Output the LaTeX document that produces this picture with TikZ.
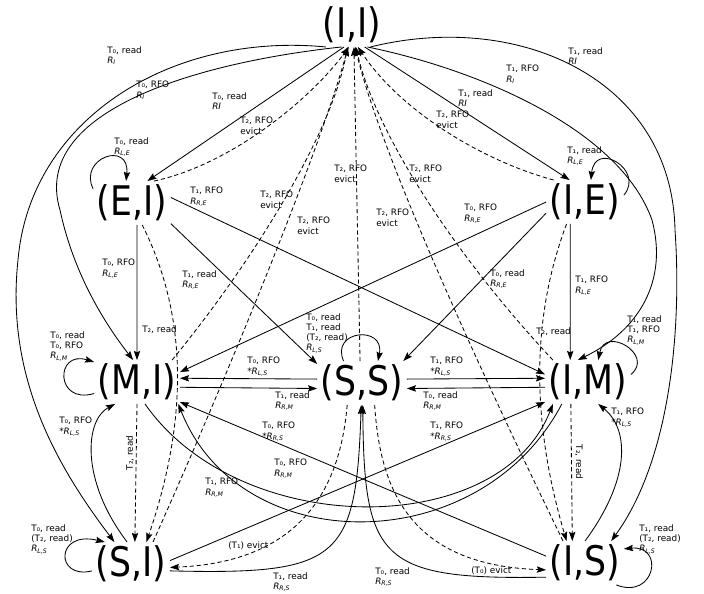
\documentclass[tikz,border=0pt]{standalone}
\usepackage{fontspec}
\setmainfont{DejaVu Sans}
\newfontfamily\statefont{DejaVu Sans}[FakeStretch=0.85]
\usetikzlibrary{arrows.meta}
\newcommand{\Rs}[1]{\textit{R}\textsubscript{\textit{#1}}}
\tikzset{
  state/.style={font=\statefont\fontsize{29}{29}\selectfont, inner sep=2.5pt},
  lbl/.style={anchor=north west, inner sep=0pt, align=left, font=\fontsize{6.3}{7.3}\selectfont},
  tr/.style={line width=0.6pt, -{Stealth[length=6.5pt,width=4.5pt,inset=1pt]}},
  dashtr/.style={tr, dash pattern=on 3pt off 2pt},
}
\begin{document}
\begin{tikzpicture}[x=0.025cm, y=-0.025cm]
\useasboundingbox (0,0) rectangle (704,593);
% states
\node[state] (II) at (352,25) {(I,I)};
\node[state] (EI) at (132,203) {(E,I)};
\node[state] (IE) at (585,202) {(I,E)};
\node[state] (MI) at (137,382) {(M,I)};
\node[state] (SS) at (362,383) {(S,S)};
\node[state] (IM) at (588,382) {(I,M)};
\node[state] (SI) at (131,564) {(S,I)};
\node[state] (IS) at (585,563) {(I,S)};
% out of (I,I)
\draw[tr] (II.220) .. controls (170,32) and (30,120) .. (18,260) .. controls (5,380) and (60,470) .. (SI);
\draw[tr] (II.245) .. controls (200,62) and (30,110) .. (60,210) .. controls (75,280) and (110,330) .. (MI.100);
\draw[tr] (II.250) -- (EI.55);
\draw[tr] (II.300) -- (IE.125);
\draw[tr] (II.305) .. controls (480,70) and (620,130) .. (652,220) .. controls (668,280) and (640,330) .. (IM.115);
\draw[tr] (II.310) .. controls (520,10) and (672,80) .. (675,230) .. controls (682,330) and (670,460) .. (IS.40);
% evictions back to (I,I)
\draw[dashtr] (EI.45) .. controls (230,165) and (310,100) .. (II.262);
\draw[dashtr] (IE.145) .. controls (480,160) and (400,110) .. (II.285);
\draw[dashtr] (SS.95) -- (II.275);
\draw[dashtr] (MI.32) .. controls (270,240) and (335,120) .. (II.258);
\draw[dashtr] (SI.45) .. controls (230,370) and (320,150) .. (II.260);
\draw[dashtr] (IM.148) .. controls (450,250) and (375,130) .. (II.280);
\draw[dashtr] (IS.135) .. controls (470,350) and (380,150) .. (II.278);
% self loops
\draw[tr] (EI.160) .. controls (78,158) and (130,140) .. (EI.105);
\draw[tr] (IE.10) .. controls (645,170) and (595,140) .. (IE.75);
\draw[tr] (MI.195) .. controls (55,405) and (55,350) .. (MI.155);
\draw[tr] (IM.10) .. controls (655,355) and (605,325) .. (IM.65);
\draw[tr] (SS.130) .. controls (330,330) and (385,325) .. (SS.54);
\draw[tr] (SI.190) .. controls (55,580) and (55,530) .. (SI.140);
\draw[tr] (IS.-35) .. controls (655,600) and (665,545) .. (IS.20);
% out of (E,I) and (I,E)
\draw[tr] (EI.-77) -- (MI.north);
\draw[tr] (IE.-124) -- (IM.129);
\draw[tr] (EI.-28) -- (SS.157);
\draw[tr] (IE.196) -- (SS.28);
\draw[tr] (EI.8) -- (IM.170);
\draw[tr] (IE.180) -- (MI.13);
\draw[dashtr] (EI.-65) .. controls (180,300) and (195,400) .. (SI.55);
\draw[dashtr] (IE.-130) .. controls (538,300) and (525,400) .. (IS.130);
% middle row
\draw[tr] (SS.175) -- (MI.5);
\draw[tr] (MI.-7) -- (SS.187);
\draw[tr] (SS.5) -- (IM.175);
\draw[tr] (IM.187) -- (SS.-7);
% (M,I)/(S,I) and (I,M)/(I,S)
\draw[dashtr] (MI.south) -- (SI.80);
\draw[dashtr] (IM.-128) -- (IS.120);
\draw[tr] (SI.100) .. controls (80,480) and (85,420) .. (MI.-135);
\draw[tr] (IS.north) .. controls (630,480) and (630,430) .. (IM.-65);
% crossing the middle
\draw[tr] (IS.170) -- (MI.-25);
\draw[tr] (SI.5) -- (IM.-155);
\draw[tr] (MI.-70) .. controls (240,540) and (500,540) .. (IM.-148);
\draw[tr] (IM.-140) .. controls (480,560) and (240,560) .. (MI.-28);
% bottom
\draw[tr] (SI.-10) .. controls (340,575) and (356,560) .. (SS.-92);
\draw[tr] (IS.200) .. controls (380,580) and (364,560) .. (SS.-88);
\draw[dashtr] (SS.-124) .. controls (340,490) and (300,562) .. (SI.-5);
\draw[dashtr] (SS.-60) .. controls (380,490) and (410,565) .. (IS.190);
% labels
\foreach \p [count=\i] in {(240,117),(260,191),(297,217),(334,165),(409,165),(376,209),(436,111)}
  \node[lbl] (ev\i) at \p {T₂, RFO\\evict};
\node[lbl] (l1) at (107,46) {T₀, read\\\Rs{I}};
\node[lbl] (l2) at (136,81) {T₀, RFO\\\Rs{I}};
\node[lbl] (l3) at (212,92) {T₀, read\\\textit{RI}};
\node[lbl] (l4) at (114,137) {T₀, read\\\Rs{L,E}};
\node[lbl] (l5) at (190,187) {T₁, RFO\\\Rs{R,E}};
\node[lbl] (l6) at (568,47) {T₁, read\\\textit{RI}};
\node[lbl] (l7) at (506,65) {T₁, RFO\\\Rs{I}};
\node[lbl] (l8) at (458,89) {T₁, read\\\textit{RI}};
\node[lbl] (l9) at (567,146) {T₁, read\\\Rs{L,E}};
\node[lbl] (l10) at (464,204) {T₀, RFO\\\Rs{R,E}};
\node[lbl] (l11) at (102,259) {T₀, RFO\\\Rs{L,E}};
\node[lbl] (l12) at (182,270) {T₁, read\\\Rs{R,E}};
\node[lbl] (l13) at (490,269) {T₀, read\\\Rs{R,E}};
\node[lbl] (l14) at (575,276) {T₁, RFO\\\Rs{L,E}};
\node[lbl] (l15) at (142,325) {T₂, read};
\node[lbl] (l16) at (536,327) {T₂, read};
\node[lbl] (l17) at (50,331) {T₀, read\\T₀, RFO\\\Rs{L,M}};
\node[lbl] (l18) at (306,313) {T₀, read\\T₁, read\\(T₂, read)\\\Rs{L,S}};
\node[lbl] (l19) at (627,315) {T₁, read\\T₁, RFO\\\Rs{L,M}};
\node[lbl] (l20) at (247,357) {T₀, RFO\\*\Rs{L,S}};
\node[lbl] (l21) at (430,357) {T₁, RFO\\*\Rs{L,S}};
\node[lbl] (l22) at (275,391) {T₁, read\\\Rs{R,M}};
\node[lbl] (l23) at (423,391) {T₀, read\\\Rs{R,M}};
\node[lbl] (l24) at (262,422) {T₀, RFO\\*\Rs{R,S}};
\node[lbl] (l25) at (430,422) {T₁, RFO\\*\Rs{R,S}};
\node[lbl] (l26) at (59,417) {T₀, RFO\\*\Rs{L,S}};
\node[lbl] (l27) at (611,408) {T₁, RFO\\*\Rs{L,S}};
\node[lbl] (l28) at (274,459) {T₀, RFO\\\Rs{R,M}};
\node[lbl] (l29) at (205,478) {T₁, RFO\\\Rs{R,M}};
\node[lbl, anchor=center, rotate=90] (l30) at (130,453) {T₂, read};
\node[lbl, anchor=center, rotate=-90] (l31) at (579,462) {T₂, read};
\node[lbl] (l32) at (31,524) {T₀, read\\(T₂, read)\\\Rs{L,S}};
\node[lbl] (l33) at (639,524) {T₁, read\\(T₂, read)\\\Rs{L,S}};
\node[lbl] (l34) at (228,541) {(T₁) evict};
\node[lbl] (l35) at (471,566) {(T₀) evict};
\node[lbl] (l36) at (273,572) {T₁, read\\\Rs{R,S}};
\node[lbl] (l37) at (375,567) {T₀, read\\\Rs{R,S}};
\end{tikzpicture}
\end{document}
